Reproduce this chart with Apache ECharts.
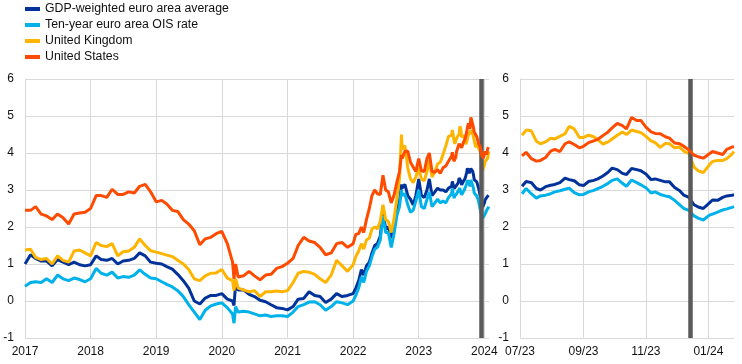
<!DOCTYPE html>
<html><head><meta charset="utf-8">
<script src="https://cdn.jsdelivr.net/npm/echarts@6/dist/echarts.min.js"></script>
<style>html,body{margin:0;padding:0;background:#fff}#c{width:742px;height:364px}</style>
</head><body><div id="c"></div>
<script>
// ---- dates ----
const histDates = [
'2017-01-01','2017-02-01','2017-03-01','2017-04-01','2017-05-01','2017-06-01','2017-07-01','2017-08-01','2017-09-01','2017-10-01','2017-11-01','2017-12-01',
'2018-01-01','2018-02-01','2018-03-01','2018-04-01','2018-05-01','2018-06-01','2018-07-01','2018-08-01','2018-09-01','2018-10-01','2018-11-01','2018-12-01',
'2019-01-01','2019-02-01','2019-03-01','2019-04-01','2019-05-01','2019-06-01','2019-07-01','2019-08-01','2019-09-01','2019-10-01','2019-11-01','2019-12-01',
'2020-01-01','2020-02-01','2020-03-01','2020-03-09','2020-03-18','2020-04-01','2020-05-01','2020-06-01','2020-07-01','2020-08-01','2020-09-01','2020-10-01','2020-11-01','2020-12-01',
'2021-01-01','2021-02-01','2021-03-01','2021-04-01','2021-05-01','2021-06-01','2021-07-01','2021-08-01','2021-09-01','2021-10-01','2021-11-01','2021-12-01',
'2022-01-01','2022-01-16','2022-02-01','2022-02-16','2022-03-01','2022-03-16','2022-04-01','2022-04-16','2022-05-01','2022-05-16','2022-06-01','2022-06-16',
'2022-07-01','2022-07-16','2022-08-01','2022-08-16','2022-09-01','2022-09-16','2022-09-27','2022-10-01','2022-10-16','2022-11-01','2022-11-16','2022-12-01','2022-12-16',
'2023-01-01','2023-01-16','2023-02-01','2023-02-16','2023-03-01','2023-03-16','2023-04-01','2023-04-16','2023-05-01','2023-05-16','2023-06-01','2023-06-16'
];
const recentDates = [
'2023-07-03','2023-07-07','2023-07-12','2023-07-17','2023-07-21','2023-07-26','2023-07-31','2023-08-04','2023-08-09','2023-08-14','2023-08-18','2023-08-23','2023-08-28',
'2023-09-01','2023-09-06','2023-09-11','2023-09-15','2023-09-20','2023-09-25','2023-09-29','2023-10-04','2023-10-09','2023-10-13','2023-10-18','2023-10-23','2023-10-27',
'2023-11-01','2023-11-06','2023-11-10','2023-11-15','2023-11-20','2023-11-24','2023-11-29','2023-12-04','2023-12-08','2023-12-13','2023-12-18','2023-12-22','2023-12-27',
'2024-01-02','2024-01-05','2024-01-10','2024-01-15','2024-01-19','2024-01-24','2024-01-26'
];

// ---- series values (%) ----
const gdpHist = [
1.0,1.25,1.15,1.08,1.08,0.95,1.12,1.05,0.98,1.05,0.98,0.95,
0.98,1.22,1.12,1.1,1.15,1.0,1.08,1.1,1.15,1.3,1.22,1.05,
1.02,1.0,0.93,0.86,0.72,0.55,0.35,0.0,-0.08,0.08,0.15,0.15,
0.2,0.05,0.0,-0.12,0.45,0.3,0.3,0.18,0.12,0.02,-0.02,-0.1,-0.18,-0.2,
-0.24,-0.15,0.05,0.07,0.25,0.15,0.12,-0.04,0.05,0.2,0.12,0.15,
0.2,0.35,0.55,0.85,0.7,0.95,1.05,1.3,1.5,1.55,1.75,2.4,1.95,2.0,1.7,2.0,2.45,2.7,3.15,3.05,3.15,2.85,2.75,2.6,2.85,
3.3,2.85,2.8,3.0,3.3,2.85,2.95,3.05,3.0,3.0,2.95,3.05
];
const gdpRecent = [3.1,3.23,3.2,3.04,3.0,3.09,3.13,3.15,3.2,3.32,3.28,3.25,3.14,3.12,3.23,3.26,3.3,3.38,3.48,3.59,3.55,3.45,3.42,3.58,3.55,3.52,3.43,3.28,3.3,3.26,3.22,3.22,3.07,2.98,2.86,2.8,2.6,2.54,2.5,2.65,2.73,2.72,2.8,2.84,2.86,2.87];

const oisHist = [
0.4,0.5,0.52,0.5,0.6,0.5,0.7,0.6,0.55,0.62,0.58,0.52,
0.6,0.88,0.75,0.7,0.78,0.62,0.66,0.64,0.7,0.84,0.72,0.62,
0.6,0.52,0.45,0.38,0.28,0.12,-0.1,-0.3,-0.5,-0.25,-0.13,-0.08,
-0.05,-0.18,-0.35,-0.6,-0.15,-0.3,-0.28,-0.3,-0.35,-0.4,-0.38,-0.42,-0.4,-0.4,
-0.42,-0.3,-0.15,-0.1,-0.03,-0.02,-0.1,-0.25,-0.15,-0.02,-0.05,-0.1,
0.0,0.15,0.35,0.65,0.5,0.8,0.95,1.2,1.4,1.45,1.65,2.3,1.85,1.85,1.45,1.8,2.3,2.55,3.0,2.85,2.9,2.6,2.4,2.45,2.7,
3.0,2.55,2.5,2.75,2.95,2.55,2.65,2.75,2.65,2.7,2.65,2.8
];
const oisRecent = [2.9,3.04,2.9,2.78,2.84,2.86,2.9,2.95,2.98,3.02,3.05,2.93,2.87,2.88,2.95,2.99,3.04,3.1,3.18,3.26,3.3,3.18,3.1,3.27,3.2,3.14,3.06,2.92,2.95,2.88,2.84,2.82,2.72,2.6,2.5,2.45,2.3,2.24,2.19,2.32,2.35,2.4,2.46,2.49,2.53,2.55];

const ukHist = [
1.38,1.4,1.18,1.12,1.15,1.0,1.22,1.1,1.05,1.35,1.38,1.3,
1.22,1.58,1.5,1.47,1.55,1.22,1.33,1.35,1.45,1.68,1.5,1.36,
1.32,1.28,1.24,1.2,1.1,1.0,0.85,0.6,0.55,0.68,0.75,0.76,
0.85,0.62,0.55,0.28,0.6,0.35,0.3,0.25,0.28,0.12,0.25,0.25,0.27,0.25,
0.28,0.5,0.75,0.8,0.78,0.72,0.6,0.5,0.7,1.1,0.95,0.8,
0.98,1.2,1.35,1.55,1.4,1.65,1.7,1.95,2.0,1.95,2.15,2.6,2.2,2.15,1.85,2.2,2.75,3.3,4.5,4.1,4.2,3.6,3.3,3.2,3.35,
3.6,3.3,3.25,3.5,3.8,3.35,3.5,3.7,3.75,3.95,4.2,4.45
];
const ukRecent = [4.48,4.62,4.6,4.32,4.25,4.3,4.4,4.38,4.45,4.52,4.72,4.65,4.42,4.42,4.48,4.44,4.36,4.24,4.3,4.38,4.48,4.57,4.5,4.62,4.58,4.55,4.45,4.33,4.28,4.15,4.26,4.25,4.14,4.16,4.05,3.98,3.62,3.52,3.47,3.68,3.77,3.8,3.8,3.85,3.97,4.04];

const usHist = [
2.45,2.45,2.55,2.35,2.3,2.2,2.35,2.25,2.08,2.35,2.38,2.4,
2.5,2.85,2.85,2.8,3.02,2.88,2.88,2.95,2.92,3.1,3.15,2.95,
2.68,2.72,2.62,2.45,2.42,2.2,2.08,1.9,1.52,1.68,1.72,1.82,
1.88,1.55,1.05,0.6,1.0,0.65,0.68,0.8,0.68,0.57,0.7,0.72,0.88,0.93,
1.02,1.15,1.5,1.72,1.62,1.58,1.45,1.25,1.3,1.55,1.58,1.45,
1.55,1.8,1.82,2.0,1.85,2.2,2.5,2.85,3.0,2.9,2.88,3.4,3.0,2.95,2.65,2.85,3.2,3.5,3.95,3.85,4.05,4.05,3.75,3.62,3.5,
3.85,3.52,3.5,3.85,4.0,3.5,3.48,3.55,3.45,3.6,3.65,3.78
];
const usRecent = [3.92,4.02,3.85,3.78,3.8,3.88,4.05,4.1,4.04,4.25,4.3,4.23,4.14,4.18,4.28,4.33,4.37,4.47,4.57,4.68,4.8,4.74,4.65,4.96,4.88,4.88,4.7,4.57,4.53,4.52,4.44,4.4,4.27,4.25,4.18,4.08,3.94,3.9,3.86,3.98,4.04,4.0,3.96,4.1,4.16,4.17];

// ---- labels / ticks ----
const seriesNames = ['GDP-weighted euro area average','Ten-year euro area OIS rate','United Kingdom','United States'];
const leftTicks = ['2017-01-01','2018-01-01','2019-01-01','2020-01-01','2021-01-01','2022-01-01','2023-01-01','2024-01-01'];
const rightTicks = ['2023-07-01','2023-09-01','2023-11-01','2024-01-01'];
const leftRange = ['2017-01-01','2024-01-26'];
const rightRange = ['2023-07-01','2024-01-26'];
const eventDate = '2023-12-14';
const yTicks = {min:-1, max:6, interval:1};

const colors = ['#003299','#00b1ea','#ffb400','#ff4b00'];
const ms = d => Date.parse(d);
const pairs = (dates, vals) => dates.map((d,i)=>[ms(d), vals[i]]);
const hist = [gdpHist, oisHist, ukHist, usHist];
const recent = [gdpRecent, oisRecent, ukRecent, usRecent];
const FONT = 'Liberation Sans, Arial, sans-serif';
const GRID = '#d9d9d9';
const pad2 = n => (n<10?'0':'')+n;

function xAxis(idx, range, ticks, fmt){
  const tv = ticks.map(ms);
  return {
    type:'value', gridIndex:idx, min:ms(range[0]), max:ms(range[1]),
    axisLine:{show:true, lineStyle:{color:GRID, width:1}},
    axisTick:{show:false, customValues: tv},
    axisLabel:{customValues: tv, formatter: fmt, color:'#111', fontSize:12, fontFamily:FONT, margin:8},
    splitLine:{show:true, lineStyle:{color:GRID, width:1}},
    axisPointer:{show:false}
  };
}
function yAxis(idx){
  return {
    type:'value', gridIndex:idx, min:yTicks.min, max:yTicks.max, interval:yTicks.interval,
    axisLine:{show:true, lineStyle:{color:GRID, width:1}},
    axisTick:{show:false},
    axisLabel:{color:'#111', fontSize:12, fontFamily:FONT, margin:11},
    splitLine:{show:true, lineStyle:{color:GRID, width:1}}
  };
}

const series = [];
[0,1].forEach(g=>{
  for(let i=0;i<4;i++){
    const data = g===0 ? pairs(histDates.concat(recentDates), hist[i].concat(recent[i])) : pairs(recentDates, recent[i]);
    series.push({
      name: seriesNames[i], type:'line', xAxisIndex:g, yAxisIndex:g, data,
      showSymbol:false, symbol:'none', smooth:false,
      lineStyle:{color:colors[i], width:3}, itemStyle:{color:colors[i]},
      z: 2+i, silent:true
    });
  }
  series.push({
    type:'line', xAxisIndex:g, yAxisIndex:g, data:[], z:10, silent:true,
    markLine:{symbol:['none','none'], silent:true, label:{show:false},
      lineStyle:{color:'#5a5a5a', width:4.5, type:'solid'},
      data:[{xAxis: ms(eventDate)}]}
  });
});

const chart = echarts.init(document.getElementById('c'), null, {renderer:'canvas'});
chart.setOption({
  animation:false,
  backgroundColor:'#fff',
  textStyle:{fontFamily:FONT},
  legend:{
    data: seriesNames, orient:'vertical', left:25, top:3, padding:0,
    icon:'rect', itemWidth:15, itemHeight:4, itemGap:4,
    textStyle:{fontSize:12.3, color:'#111', fontFamily:FONT},
    selectedMode:false
  },
  grid:[
    {left:25, top:79, width:463.8, height:259, containLabel:false},
    {left:520, top:79, width:214, height:259, containLabel:false}
  ],
  xAxis:[
    xAxis(0, leftRange, leftTicks, v=> String(new Date(v).getUTCFullYear())),
    xAxis(1, rightRange, rightTicks, v=>{const d=new Date(v); return pad2(d.getUTCMonth()+1)+'/'+pad2(d.getUTCFullYear()%100);})
  ],
  yAxis:[yAxis(0), yAxis(1)],
  series
});
</script></body></html>
